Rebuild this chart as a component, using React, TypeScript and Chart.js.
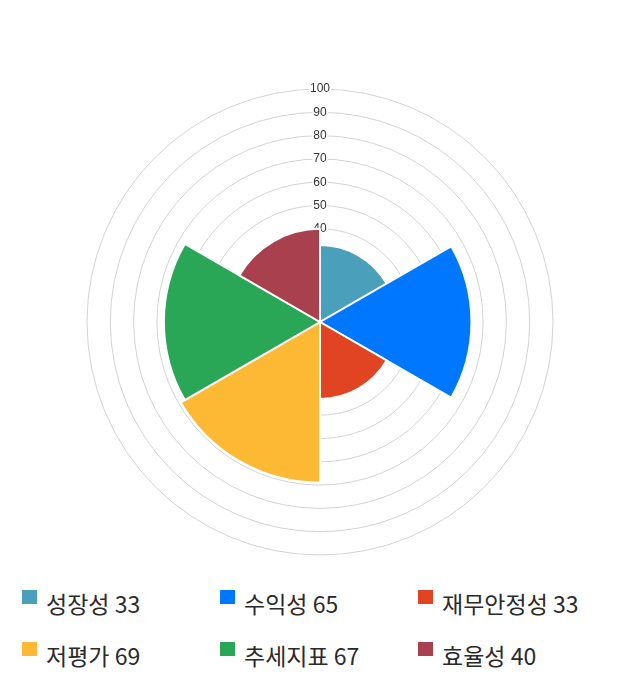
import { useEffect, useRef } from 'react';
import { Chart, registerables } from 'chart.js';

Chart.register(...registerables);

const categories = ['성장성', '수익성', '재무안정성', '저평가', '추세지표', '효율성'];
const scores = [33, 65, 33, 69, 67, 40];
const colors = ['#4aa0ba', '#0077ff', '#e04423', '#feb934', '#2aa657', '#a8404e'];

export default function App() {
  const chartRef = useRef<HTMLCanvasElement>(null);
  const chartInstance = useRef<Chart | null>(null);

  useEffect(() => {
    if (!chartRef.current) return;
    const ctx = chartRef.current.getContext('2d');
    if (!ctx) return;

    if (chartInstance.current) {
      chartInstance.current.destroy();
    }

    chartInstance.current = new Chart(ctx, {
      type: 'polarArea',
      data: {
        labels: categories,
        datasets: [{
          data: scores,
          backgroundColor: colors,
          borderColor: '#ffffff',
          borderWidth: 2,
        }],
      },
      options: {
        animation: false,
        responsive: true,
        maintainAspectRatio: false,
        layout: { padding: { top: 74, bottom: 0 } },
        plugins: {
          legend: { display: false },
          tooltip: { enabled: false },
        },
        scales: {
          r: {
            min: 0,
            max: 100,
            ticks: {
              stepSize: 10,
              color: '#333333',
              font: { family: 'Arial, "Liberation Sans", sans-serif', size: 12 },
              backdropColor: 'rgba(255,255,255,0.9)',
              backdropPadding: 1,
            },
            grid: { color: '#d3d3d3', lineWidth: 1 },
            angleLines: { display: false },
            pointLabels: { display: false },
          },
        },
      },
    });

    return () => {
      if (chartInstance.current) {
        chartInstance.current.destroy();
        chartInstance.current = null;
      }
    };
  }, []);

  return (
    <div style={{ width: 624, fontFamily: '"Noto Sans CJK KR", "Noto Sans", sans-serif' }}>
      <div style={{ height: 555, position: 'relative' }}>
        <canvas ref={chartRef} />
      </div>
      <div style={{ display: 'flex', flexWrap: 'wrap', paddingLeft: 14, marginTop: 15 }}>
        {categories.map((name, i) => (
          <div
            key={name}
            style={{ width: 198, height: 52, display: 'flex', alignItems: 'flex-start' }}
          >
            <span
              style={{
                display: 'inline-block',
                width: 15,
                height: 14,
                background: colors[i],
                marginTop: 12,
                marginRight: 9,
              }}
            />
            <span style={{ fontSize: 23, lineHeight: '30px', marginTop: 10, color: '#2a2a2a' }}>
              {name} {scores[i]}
            </span>
          </div>
        ))}
      </div>
    </div>
  );
}
